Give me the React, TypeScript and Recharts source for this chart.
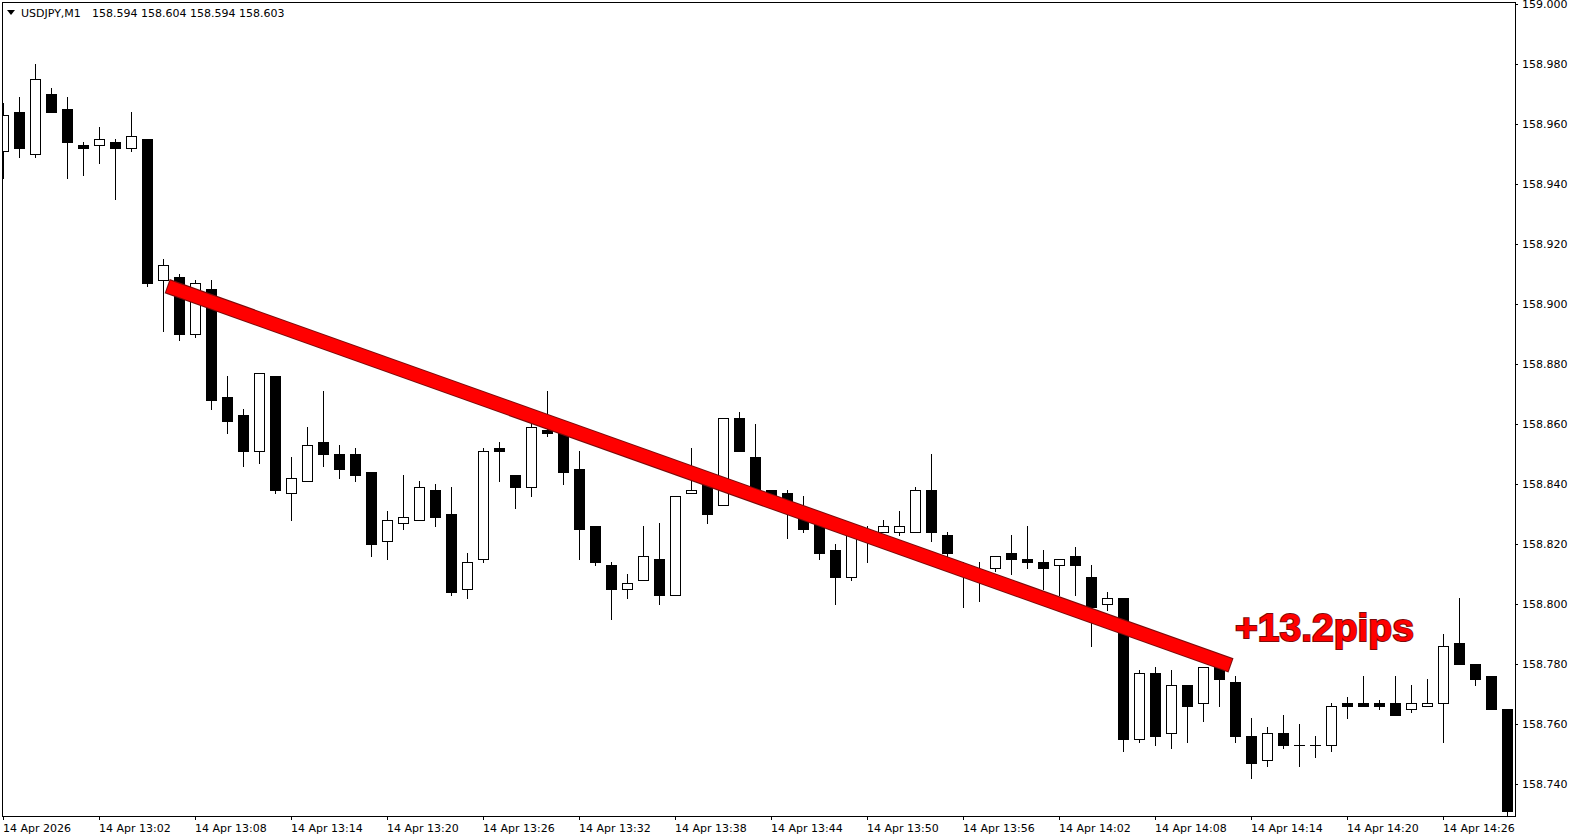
import React from 'react';
import { ComposedChart, Bar, XAxis, YAxis, ReferenceLine, ReferenceDot } from 'recharts';

const times = [
  '12:56','12:57','12:58','12:59',
  '13:00','13:01','13:02','13:03','13:04','13:05','13:06','13:07','13:08','13:09',
  '13:10','13:11','13:12','13:13','13:14','13:15','13:16','13:17','13:18','13:19',
  '13:20','13:21','13:22','13:23','13:24','13:25','13:26','13:27','13:28','13:29',
  '13:30','13:31','13:32','13:33','13:34','13:35','13:36','13:37','13:38','13:39',
  '13:40','13:41','13:42','13:43','13:44','13:45','13:46','13:47','13:48','13:49',
  '13:50','13:51','13:52','13:53','13:54','13:55','13:56','13:57','13:58','13:59',
  '14:00','14:01','14:02','14:03','14:04','14:05','14:06','14:07','14:08','14:09',
  '14:10','14:11','14:12','14:13','14:14','14:15','14:16','14:17','14:18','14:19',
  '14:20','14:21','14:22','14:23','14:24','14:25','14:26','14:27','14:28','14:29',
  '14:30',
];

const opens = [
  158.951,158.964,158.950,158.970,
  158.965,158.953,158.953,158.954,158.952,158.955,158.908,158.909,158.890,158.905,
  158.869,158.863,158.851,158.876,158.837,158.841,158.854,158.850,158.850,158.844,
  158.821,158.827,158.828,158.838,158.830,158.805,158.815,158.852,158.843,158.839,
  158.858,158.857,158.845,158.826,158.813,158.805,158.808,158.815,158.803,158.837,
  158.840,158.833,158.862,158.849,158.838,158.837,158.832,158.829,158.818,158.809,
  158.822,158.824,158.824,158.824,158.838,158.823,158.813,158.810,158.812,158.817,
  158.815,158.814,158.813,158.816,158.809,158.800,158.802,158.755,158.777,158.757,
  158.773,158.767,158.780,158.774,158.756,158.748,158.757,158.753,158.753,158.753,
  158.767,158.767,158.767,158.767,158.765,158.766,158.767,158.787,158.780,158.776,
  158.765,
];

const highs = [
  158.967,158.969,158.980,158.972,
  158.969,158.954,158.959,158.955,158.964,158.955,158.915,158.910,158.908,158.908,
  158.876,158.865,158.877,158.876,158.849,158.859,158.871,158.853,158.852,158.844,
  158.831,158.843,158.841,158.840,158.839,158.817,158.852,158.854,158.843,158.860,
  158.871,158.860,158.851,158.826,158.814,158.810,158.826,158.827,158.836,158.852,
  158.842,158.862,158.864,158.860,158.838,158.838,158.836,158.831,158.820,158.826,
  158.826,158.828,158.831,158.839,158.850,158.824,158.814,158.814,158.816,158.823,
  158.826,158.818,158.815,158.819,158.813,158.804,158.802,158.778,158.779,158.778,
  158.773,158.779,158.781,158.776,158.762,158.759,158.763,158.760,158.756,158.767,
  158.769,158.776,158.768,158.776,158.773,158.775,158.790,158.802,158.780,158.776,
  158.765,
];

const lows = [
  158.942,158.949,158.949,158.964,
  158.942,158.943,158.947,158.935,158.951,158.906,158.891,158.888,158.889,158.865,
  158.857,158.846,158.847,158.837,158.828,158.841,158.846,158.842,158.841,158.816,
  158.815,158.825,158.828,158.826,158.803,158.802,158.814,158.841,158.832,158.836,
  158.856,158.840,158.815,158.813,158.795,158.802,158.808,158.800,158.803,158.837,
  158.827,158.833,158.851,158.836,158.835,158.822,158.824,158.815,158.800,158.808,
  158.814,158.824,158.823,158.824,158.821,158.816,158.799,158.801,158.811,158.810,
  158.812,158.805,158.803,158.803,158.786,158.798,158.751,158.754,158.753,158.752,
  158.754,158.761,158.766,158.754,158.742,158.746,158.752,158.746,158.749,158.751,
  158.762,158.766,158.765,158.763,158.764,158.766,158.754,158.780,158.773,158.765,
  158.729,
];

const closes = [
  158.963,158.952,158.975,158.964,
  158.954,158.952,158.955,158.952,158.956,158.907,158.913,158.890,158.907,158.868,
  158.861,158.851,158.877,158.838,158.842,158.853,158.850,158.845,158.843,158.820,
  158.828,158.829,158.839,158.829,158.804,158.814,158.851,158.851,158.839,158.859,
  158.857,158.844,158.825,158.814,158.805,158.807,158.816,158.803,158.836,158.838,
  158.830,158.862,158.851,158.837,158.836,158.832,158.825,158.817,158.809,158.825,
  158.823,158.826,158.826,158.838,158.824,158.817,158.810,158.811,158.816,158.815,
  158.814,158.812,158.815,158.813,158.799,158.802,158.755,158.777,158.756,158.773,
  158.766,158.779,158.775,158.756,158.747,158.757,158.753,158.753,158.753,158.766,
  158.766,158.766,158.766,158.763,158.767,158.767,158.786,158.780,158.775,158.765,
  158.731,
];

const xTickIndices = [0, 6, 12, 18, 24, 30, 36, 42, 48, 54, 60, 66, 72, 78, 84, 90];
const xTickLabels = [
  '14 Apr 2026', '14 Apr 13:02', '14 Apr 13:08', '14 Apr 13:14', '14 Apr 13:20',
  '14 Apr 13:26', '14 Apr 13:32', '14 Apr 13:38', '14 Apr 13:44', '14 Apr 13:50',
  '14 Apr 13:56', '14 Apr 14:02', '14 Apr 14:08', '14 Apr 14:14', '14 Apr 14:20',
  '14 Apr 14:26',
];
const yTicks = [158.74, 158.76, 158.78, 158.8, 158.82, 158.84, 158.86, 158.88, 158.9, 158.92, 158.94, 158.96, 158.98, 159.0];

const trendStart = { i: 10.29, price: 158.906 };
const trendEnd = { i: 76.66, price: 158.7798 };
const pipsText = '+13.2pips';
const pipsAnchor = { i: 76.97, price: 158.7878 };
const headerSymbol = 'USDJPY,M1';
const headerPrices = '158.594 158.604 158.594 158.603';

const X_DOMAIN: [number, number] = [-0.09375, 94.46875];
const Y_DOMAIN: [number, number] = [158.7295, 159.000833];

const data = times.map((t, i) => ({
  i,
  t,
  open: opens[i],
  high: highs[i],
  low: lows[i],
  close: closes[i],
  range: [lows[i], highs[i]],
}));

const FONT = '"DejaVu Sans", Verdana, sans-serif';

const Candle = (props: any) => {
  const { x, y, width, height, payload } = props;
  if (x == null || y == null || payload == null) return null;
  const top = Math.min(y, y + height);
  const bot = Math.max(y, y + height);
  const { open, high, low, close } = payload;
  const span = high - low;
  const py = (p: number) => (span > 0 ? top + ((high - p) / span) * (bot - top) : top);
  const cx = Math.round(x + width / 2 - 0.5) + 0.5;
  const left = cx - 5.5;
  const bodyTop = Math.round(py(Math.max(open, close)));
  const bodyBot = Math.round(py(Math.min(open, close)));
  const wickTop = Math.round(py(high));
  const wickBot = Math.round(py(low));
  const bull = close > open;
  return (
    <g shapeRendering="crispEdges">
      <line x1={cx} x2={cx} y1={wickTop} y2={wickBot + 1} stroke="#000" strokeWidth={1} />
      {bodyBot - bodyTop < 1 ? (
        <line x1={left} x2={left + 11} y1={bodyTop + 0.5} y2={bodyTop + 0.5} stroke="#000" strokeWidth={1} />
      ) : (
        <rect
          x={left + 0.5}
          y={bodyTop + 0.5}
          width={10}
          height={bodyBot - bodyTop}
          fill={bull ? '#fff' : '#000'}
          stroke="#000"
          strokeWidth={1}
        />
      )}
    </g>
  );
};

const XTick = (props: any) => {
  const { x, y, payload } = props;
  const idx = xTickIndices.indexOf(payload.value);
  const label = idx >= 0 ? xTickLabels[idx] : '';
  return (
    <text x={x - 0.5} y={y + 10} fontFamily={FONT} fontSize={11} fill="#000" textAnchor="start">
      {label}
    </text>
  );
};

const PipsLabel = (props: any) => {
  const { cx, cy } = props;
  if (cx == null) return null;
  return (
    <text
      x={cx}
      y={cy}
      fontFamily='"Liberation Sans", Arial, sans-serif'
      fontWeight="bold"
      fontSize={39}
      fill="#ff0000"
      stroke="#7a0b0b"
      strokeWidth={2}
      paintOrder="stroke"
      textAnchor="start"
    >
      {pipsText}
    </text>
  );
};

// extend the outline segment ~1px beyond the red one at both ends
const segPxLen = Math.hypot(
  (trendEnd.i - trendStart.i) * 16,
  (trendEnd.price - trendStart.price) * 3000
);
const ext = 1 / segPxLen;
const dI = (trendEnd.i - trendStart.i) * ext;
const dP = (trendEnd.price - trendStart.price) * ext;

export default function App() {
  return (
    <div style={{ position: 'absolute', left: 0, top: 0, width: 1579, height: 840, background: '#fff' }}>
      <ComposedChart
        width={1579}
        height={840}
        data={data}
        margin={{ top: 2, right: 0, bottom: 0, left: 2 }}
      >
        <XAxis
          dataKey="i"
          type="number"
          domain={X_DOMAIN}
          allowDataOverflow
          ticks={xTickIndices}
          interval={0}
          height={24}
          tickSize={4}
          tickLine={{ stroke: '#000', shapeRendering: 'crispEdges' }}
          axisLine={false}
          tick={<XTick />}
        />
        <YAxis
          orientation="right"
          type="number"
          domain={Y_DOMAIN}
          allowDataOverflow
          ticks={yTicks}
          interval={0}
          width={64}
          tickSize={3}
          tickMargin={4}
          axisLine={false}
          tickLine={{ stroke: '#000', shapeRendering: 'crispEdges' }}
          tickFormatter={(v: number) => v.toFixed(3)}
          tick={{ fontFamily: FONT, fontSize: 11, fill: '#000' }}
        />
        <Bar dataKey="range" barSize={11} shape={<Candle />} isAnimationActive={false} />
        <ReferenceLine
          segment={[
            { x: trendStart.i - dI, y: trendStart.price - dP },
            { x: trendEnd.i + dI, y: trendEnd.price + dP },
          ]}
          stroke="#7a0b0b"
          strokeWidth={15}
          zIndex={450}
        />
        <ReferenceLine
          segment={[
            { x: trendStart.i, y: trendStart.price },
            { x: trendEnd.i, y: trendEnd.price },
          ]}
          stroke="#ff0000"
          strokeWidth={13}
          zIndex={460}
        />
        <ReferenceDot x={pipsAnchor.i} y={pipsAnchor.price} r={0} shape={<PipsLabel />} zIndex={470} />
      </ComposedChart>
      <div
        style={{
          position: 'absolute',
          left: 2,
          top: 2,
          width: 1514,
          height: 815,
          boxSizing: 'border-box',
          border: '1px solid #000',
          pointerEvents: 'none',
        }}
      />
      <svg width={400} height={24} style={{ position: 'absolute', left: 0, top: 0, pointerEvents: 'none' }}>
        <polygon points="7,10 15,10 11,15" fill="#000" />
        <text x={21} y={17} fontFamily={FONT} fontSize={11} fill="#000">{headerSymbol}</text>
        <text x={92} y={17} fontFamily={FONT} fontSize={11} fill="#000">{headerPrices}</text>
      </svg>
    </div>
  );
}
